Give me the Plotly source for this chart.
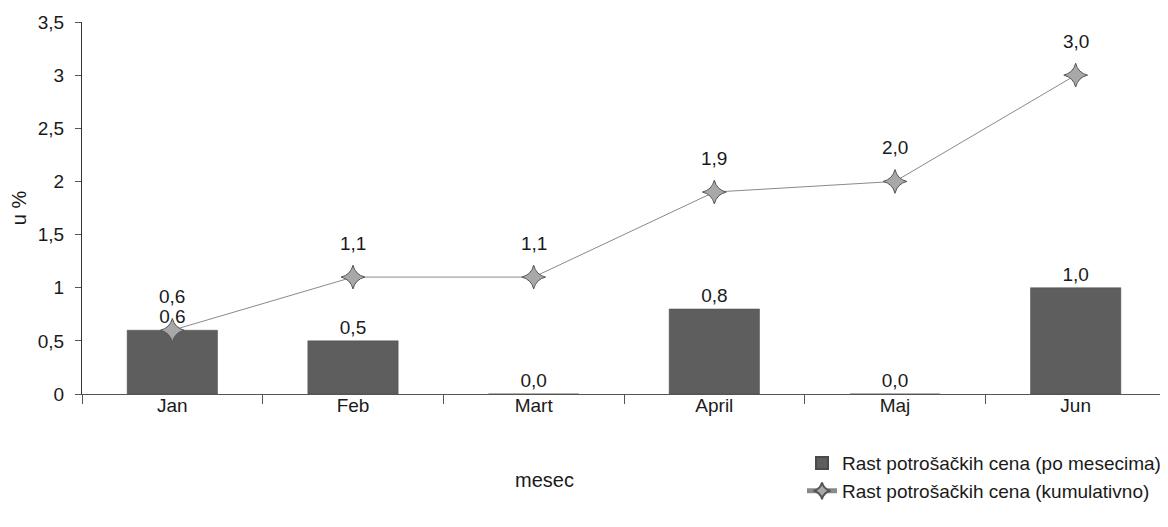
import plotly.graph_objects as go

months = ["Jan", "Feb", "Mart", "April", "Maj", "Jun"]
monthly = [0.6, 0.5, 0.0, 0.8, 0.0, 1.0]
cumulative = [0.6, 1.1, 1.1, 1.9, 2.0, 3.0]
bar_name = "Rast potrošačkih cena (po mesecima)"
line_name = "Rast potrošačkih cena (kumulativno)"
y_ticks = [0, 0.5, 1, 1.5, 2, 2.5, 3, 3.5]
x_title = "mesec"
y_title = "u %"

FONT = "Arial, Liberation Sans, sans-serif"
TXT = "#1a1a1a"

def fmt(v):
    return f"{v:.1f}".replace(".", ",")

fig = go.Figure()
fig.add_trace(go.Bar(
    x=months, y=monthly, name=bar_name, width=0.5,
    marker=dict(color="#5e5e5e", line=dict(color="#4a4a4a", width=0.5)),
    text=[fmt(v) for v in monthly], textposition="outside",
    textfont=dict(family=FONT, size=19, color=TXT),
    cliponaxis=False,
))
fig.add_trace(go.Scatter(
    x=months, y=cumulative, name=line_name, mode="lines+markers",
    line=dict(color="#8a8a8a", width=1),
    marker=dict(symbol="star-diamond", size=17, color="#a8a8a8",
                line=dict(color="#555", width=1)),
    cliponaxis=False,
))
for m, v in zip(months, cumulative):
    fig.add_annotation(x=m, y=v, text=fmt(v), showarrow=False, yshift=34,
                       font=dict(family=FONT, size=19, color=TXT))

# x-axis title placed left of centre as in the reference
fig.add_annotation(x=0.427, xref="paper", y=386 - 472, yref="paper",
                   text=x_title, showarrow=False,
                   font=dict(family=FONT, size=20, color=TXT))
fig.layout.annotations[-1].update(y=-(472 - 386) / 372, yanchor="middle")

# page body has an 8px margin; shift everything up/left by 8px
fig.update_layout(
    width=1160, height=519,
    margin=dict(l=74, r=2, t=14, b=133, autoexpand=False),
    plot_bgcolor="white", paper_bgcolor="white",
    separators=", ",
    font=dict(family=FONT, size=19, color=TXT),
    bargap=0.5,
    showlegend=True,
    legend=dict(x=1.0, xanchor="right", y=-0.135, yanchor="top",
                font=dict(family=FONT, size=19, color=TXT),
                tracegroupgap=0, itemsizing="constant", itemwidth=30,
                bgcolor="rgba(0,0,0,0)"),
    xaxis=dict(
        automargin=False,
        tickson="boundaries", ticks="outside", ticklen=9, tickcolor="#555",
        ticklabelstandoff=-6,
        showline=True, linecolor="#555", linewidth=1,
        showgrid=False, zeroline=False,
        tickfont=dict(family=FONT, size=19, color=TXT),
    ),
    yaxis=dict(
        title=dict(text=y_title, font=dict(family=FONT, size=20, color=TXT), standoff=20),
        automargin=False,
        range=[0, 3.5], tickvals=y_ticks, tickformat=".1~f",
        ticks="outside", ticklen=6, tickcolor="#555",
        ticklabelstandoff=7,
        showline=True, linecolor="#333", linewidth=1,
        showgrid=False, zeroline=False,
        tickfont=dict(family=FONT, size=19, color=TXT),
    ),
)

fig.write_html("out.html")
